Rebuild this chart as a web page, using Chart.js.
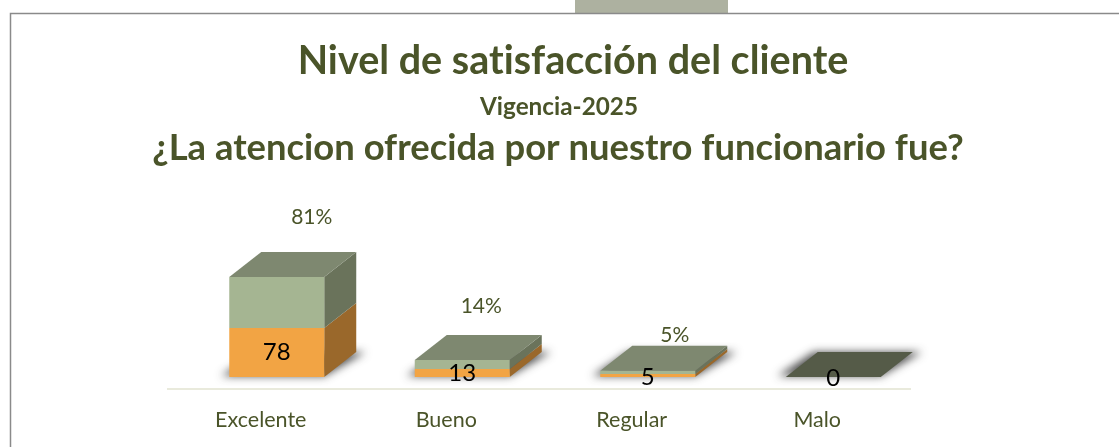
<!DOCTYPE html>
<html><head><meta charset="utf-8">
<style>html,body{margin:0;padding:0;background:#fff}#w{width:1119px;height:447px;position:relative}canvas{display:block}</style>
<script src="https://cdn.jsdelivr.net/npm/chart.js@4/dist/chart.umd.min.js"></script>
</head><body><div id="w"><canvas id="c" width="1119" height="447"></canvas></div>
<script>
const categories = ["Excelente","Bueno","Regular","Malo"];
const counts = [78,13,5,0];
const percents = [81,14,5,0];
const titleLines = ["Nivel de satisfacción del cliente","Vigencia-2025","¿La atencion ofrecida por nuestro funcionario fue?"];

const FONT = "Lato, 'Open Sans', sans-serif";
const OLIVE = "#4a5429";
const DX = 32, DY = 25, SHIFT = 16;
const pctOffsets = [[35,-60],[19,-54],[27,-36],[0,0]];

function poly(ctx, pts, fill){
  ctx.beginPath();
  pts.forEach((p,i)=> i?ctx.lineTo(p[0],p[1]):ctx.moveTo(p[0],p[1]));
  ctx.closePath(); ctx.fillStyle = fill; ctx.fill();
}
const frame = {
  id:'frame',
  beforeDraw(chart){
    const c = chart.ctx;
    c.save();
    c.fillStyle = "#ffffff"; c.fillRect(0,0,chart.width,chart.height);
    c.fillStyle = "#adb1a0"; c.fillRect(575,0,153,13);
    c.strokeStyle = "#8a8a8a"; c.lineWidth = 1.5;
    c.beginPath(); c.moveTo(10.5,447); c.lineTo(10.5,13.5); c.lineTo(1119,13.5); c.stroke();
    c.restore();
  }
};
const cube = {
  id:'cube',
  beforeDatasetsDraw(chart){
    const c = chart.ctx;
    const m0 = chart.getDatasetMeta(0).data, m1 = chart.getDatasetMeta(1).data;
    c.save();
    c.translate(SHIFT,0);
    m0.forEach((b,i)=>{
      const h = b.getProps(['x','y','base','width']);
      const l=h.x-h.width/2, r=h.x+h.width/2, y0=h.base;
      const far = 3000;
      c.save();
      c.shadowColor="rgba(50,50,50,.85)"; c.shadowBlur=8; c.shadowOffsetX=far;
      poly(c,[[l-8-far,y0-1],[r-far,y0-1],[r+DX+9-far,y0-DY],[l+DX-4-far,y0-DY]],"#000");
      c.restore();
    });
    m0.forEach((b,i)=>{
      const o = b.getProps(['x','y','base','width']);
      const g = m1[i].getProps(['x','y','base','width']);
      const l=o.x-o.width/2, r=o.x+o.width/2;
      poly(c,[[r,o.base],[r+DX,o.base-DY],[r+DX,o.y-DY],[r,o.y]],"#9a682b");
      poly(c,[[r,o.y],[r+DX,o.y-DY],[r+DX,g.y-DY],[r,g.y]],"#6a735b");
      const empty = percents[i]===0 && counts[i]===0;
      poly(c,[[l,g.y],[r,g.y],[r+DX,g.y-DY],[l+DX,g.y-DY]], empty?"#555b48":"#7e8870");
    });
    c.restore();
    c.save(); c.translate(SHIFT,0);
  },
  afterDatasetsDraw(chart){
    const c = chart.ctx;
    c.restore();
    const m0 = chart.getDatasetMeta(0).data, m1 = chart.getDatasetMeta(1).data;
    c.save();
    c.textAlign="center"; c.textBaseline="middle";
    if ('letterSpacing' in c) c.letterSpacing = "0.01px";
    m0.forEach((b,i)=>{
      const o=b.getProps(['x','y','base']);
      c.font="24px "+FONT; c.fillStyle="#000";
      c.fillText(String(counts[i]), o.x+SHIFT, Math.min((o.y+o.base)/2, o.base-0.5)+ (counts[i]<10?1.5:0));
      if(percents[i]>0){
        const g=m1[i].getProps(['x','y']);
        c.font="21px "+FONT; c.fillStyle=OLIVE;
        c.fillText(percents[i]+"%", g.x+SHIFT+pctOffsets[i][0], g.y+pctOffsets[i][1]);
      }
    });
    c.fillStyle=OLIVE;
    c.font="bold 39.5px "+FONT; c.fillText(titleLines[0],573,61);
    c.font="bold 24.3px "+FONT; c.fillText(titleLines[1],559,107);
    c.font="bold 36.4px "+FONT; c.fillText(titleLines[2],558,148);
    c.restore();
  }
};
new Chart(document.getElementById('c'),{
  type:'bar',
  data:{labels:categories,datasets:[
    {label:'Cantidad',data:counts,backgroundColor:'#f2a444',borderWidth:0,stack:'s'},
    {label:'Porcentaje',data:percents,backgroundColor:'#a5b592',borderWidth:0,stack:'s'}
  ]},
  options:{
    responsive:false,animation:false,
    layout:{padding:{left:168,right:209,top:201,bottom:0}},
    plugins:{legend:{display:false},tooltip:{enabled:false},title:{display:false}},
    datasets:{bar:{categoryPercentage:1,barPercentage:0.512}},
    scales:{
      x:{stacked:true,grid:{display:false,drawTicks:false},border:{display:true,color:'#e9eadc',width:2},
         ticks:{color:OLIVE,padding:18,font:{family:FONT,size:21.5},maxRotation:0},
         afterFit(s){ s.height = 58; }},
      y:{stacked:true,display:false,min:-19,max:280}
    }
  },
  plugins:[frame,cube]
});
</script></body></html>
